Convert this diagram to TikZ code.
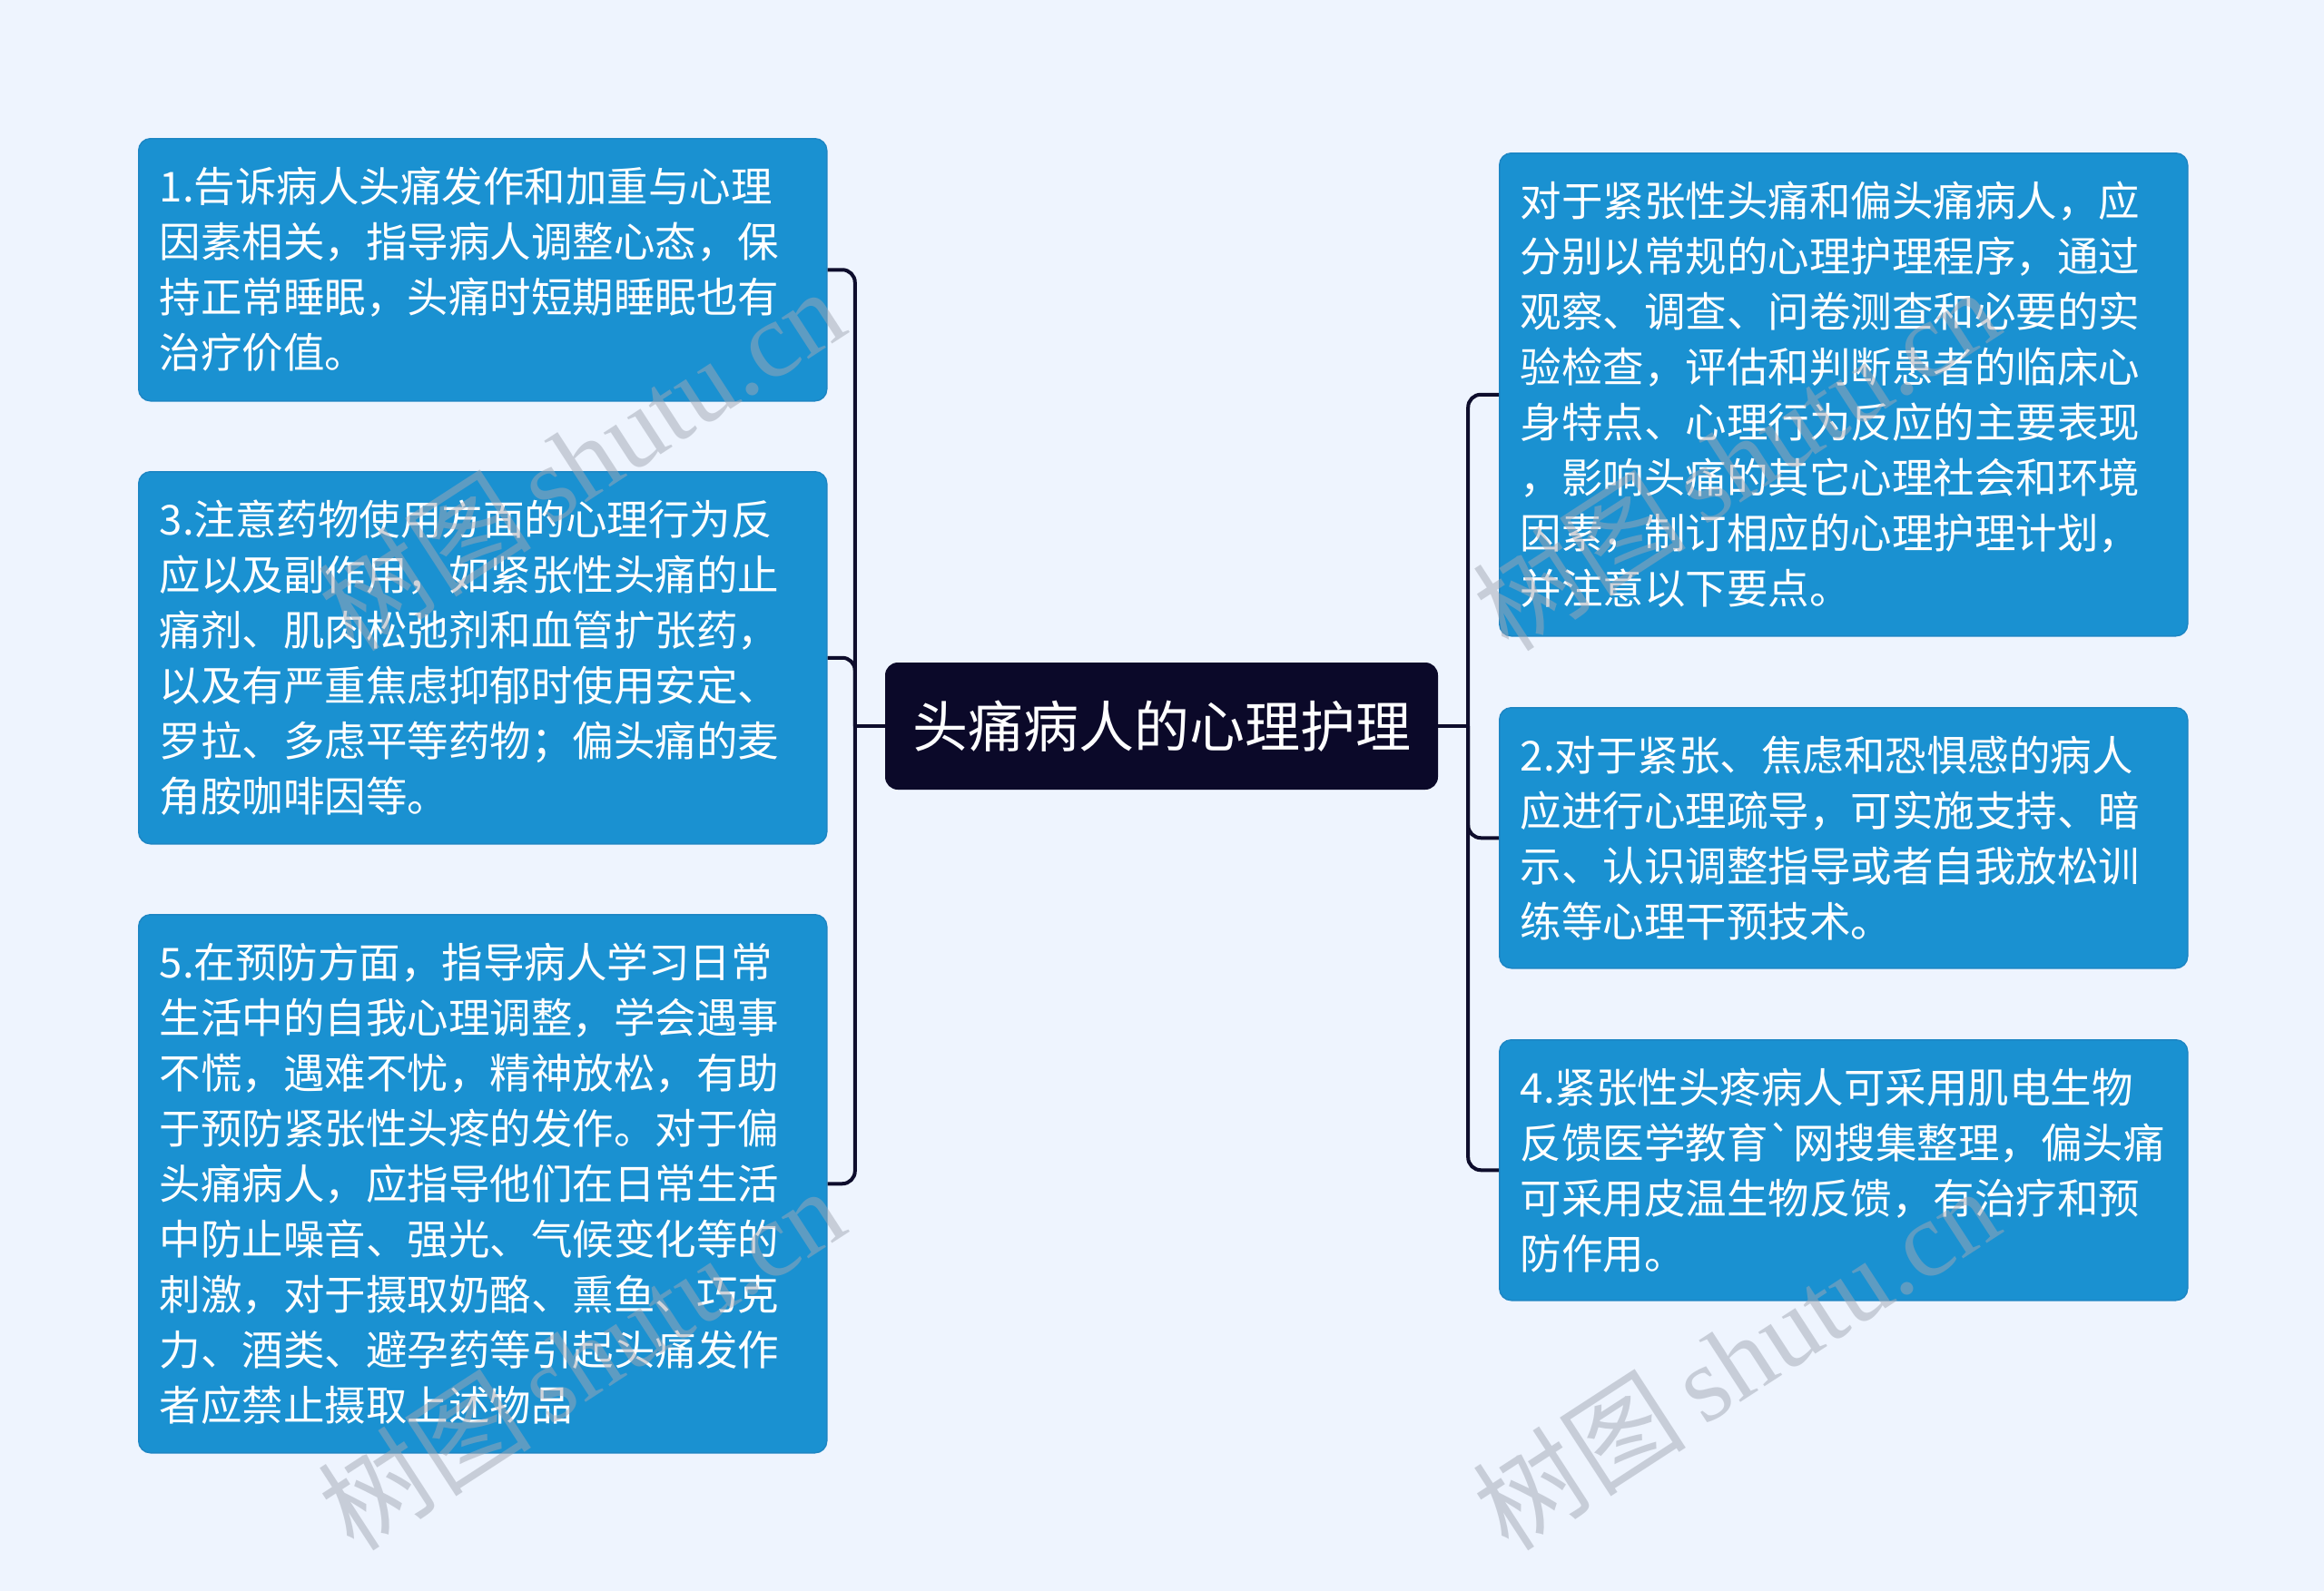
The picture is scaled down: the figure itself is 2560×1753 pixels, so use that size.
\documentclass[tikz,border=0pt]{standalone}
\usepackage{fontspec}
\newfontfamily\cjk[Ligatures=TeXOff]{Noto Sans CJK SC}
\newfontfamily\wmserif{Liberation Serif}
\definecolor{bgc}{HTML}{EEF4FE}
\definecolor{boxc}{HTML}{1A91D1}
\definecolor{boxb}{HTML}{1D86C4}
\definecolor{rootc}{HTML}{0B0929}
\definecolor{linec}{HTML}{0E0D2C}
\definecolor{wmc}{HTML}{A2A8B4}
\tikzset{
  leaf/.style={draw=boxb, line width=1.5pt, fill=boxc, rounded corners=13pt, text=white,
    anchor=north west, inner xsep=23pt, inner ysep=0pt, text width=712pt, align=left,
    minimum width=756pt, font=\cjk\fontsize{45.5}{61}\selectfont},
  rootbox/.style={fill=rootc, rounded corners=14pt, text=white, minimum width=609pt,
    minimum height=140pt, inner sep=0pt, font=\cjk\fontsize{61}{70}\selectfont},
  conn/.style={draw=linec, line width=4pt, rounded corners=14pt},
  wm/.style={text=wmc, opacity=0.5, rotate=33, inner sep=0pt}
}
\begin{document}
\begin{tikzpicture}[x=1pt,y=-1pt]
\useasboundingbox[fill=bgc] (0,0) rectangle (2560,1753);

\node[rootbox] (c) at (1279.5,800) {头痛病人的心理护理};

\node[leaf, minimum height=289pt] (L1) at (152,152) {1.告诉病人头痛发作和加重与心理\\因素相关，指导病人调整心态，保\\持正常睡眠，头痛时短期睡眠也有\\治疗价值。};
\node[leaf, minimum height=410pt] (L3) at (152,519) {3.注意药物使用方面的心理行为反\\应以及副作用，如紧张性头痛的止\\痛剂、肌肉松弛剂和血管扩张药，\\以及有严重焦虑抑郁时使用安定、\\罗拉、多虑平等药物；偏头痛的麦\\角胺咖啡因等。};
\node[leaf, minimum height=593pt] (L5) at (152,1007) {5.在预防方面，指导病人学习日常\\生活中的自我心理调整，学会遇事\\不慌，遇难不忧，精神放松，有助\\于预防紧张性头疼的发作。对于偏\\头痛病人，应指导他们在日常生活\\中防止噪音、强光、气候变化等的\\刺激，对于摄取奶酪、熏鱼、巧克\\力、酒类、避孕药等引起头痛发作\\者应禁止摄取上述物品};

\node[leaf, minimum height=532pt] (R1) at (1651,168) {对于紧张性头痛和偏头痛病人，应\\分别以常规的心理护理程序，通过\\观察、调查、问卷测查和必要的实\\验检查，评估和判断患者的临床心\\身特点、心理行为反应的主要表现\\，影响头痛的其它心理社会和环境\\因素，制订相应的心理护理计划，\\并注意以下要点。};
\node[leaf, minimum height=287pt] (R2) at (1651,779) {2.对于紧张、焦虑和恐惧感的病人\\应进行心理疏导，可实施支持、暗\\示、认识调整指导或者自我放松训\\练等心理干预技术。};
\node[leaf, minimum height=287pt] (R4) at (1651,1145) {4.紧张性头疼病人可采用肌电生物\\反馈医学教育`网搜集整理，偏头痛\\可采用皮温生物反馈，有治疗和预\\防作用。};

\coordinate (lj) at ([xshift=-33pt]c.west);
\coordinate (rj) at ([xshift=33pt]c.east);
\draw[conn] (c.west) -- (lj);
\draw[conn] (c.east) -- (rj);
\draw[conn] (lj) |- (L1.east);
\draw[conn] (lj) |- (L3.east);
\draw[conn] (lj) |- (L5.east);
\draw[conn] (rj) |- (R1.west);
\draw[conn] (rj) |- (R2.west);
\draw[conn] (rj) |- (R4.west);

\foreach \p/\q in {640/505, 1912/505, 640/1496, 1912/1496}{
  \node[wm] at (\p,\q) {\cjk\fontsize{118}{118}\selectfont 树图\,\wmserif shutu.cn};
}
\end{tikzpicture}
\end{document}
